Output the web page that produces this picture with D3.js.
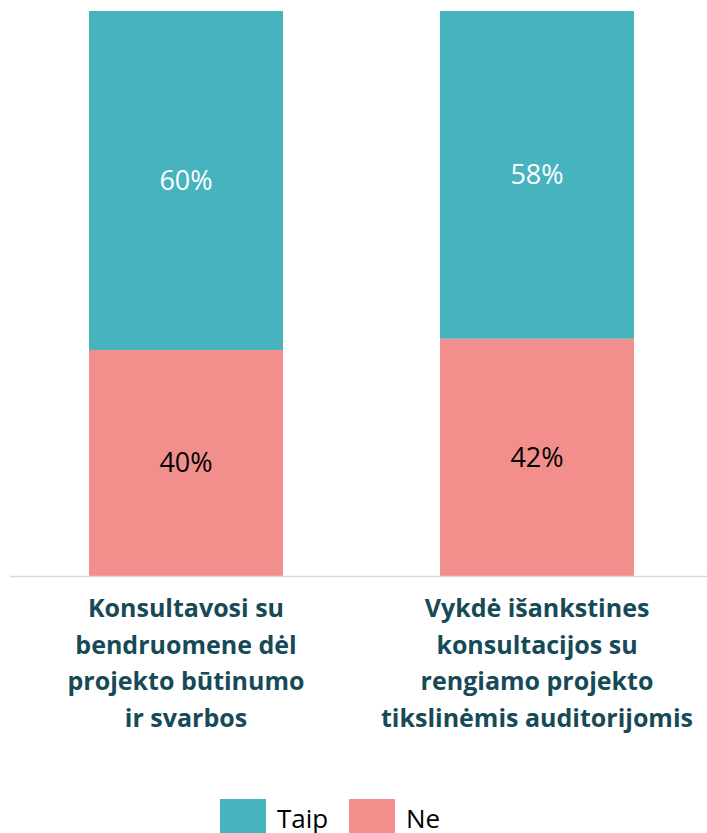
<!DOCTYPE html>
<html>
<head>
<meta charset="utf-8">
<script src="https://cdn.jsdelivr.net/npm/d3@7"></script>
<style>
  body { margin: 0; background: #fff; }
  svg { display: block; }
</style>
</head>
<body>
<svg id="chart" width="707" height="833"></svg>
<script>
// chart data
var categories = [
  ["Konsultavosi su", "bendruomene dėl", "projekto būtinumo", "ir svarbos"],
  ["Vykdė išankstines", "konsultacijos su", "rengiamo projekto", "tikslinėmis auditorijomis"]
];
var seriesNames = ["Ne", "Taip"];
var neValues = [40, 42];
var taipValues = [60, 58];
var colours = { Taip: "#46B3BF", Ne: "#F28F8D" };
var labelColours = { Taip: "#ffffff", Ne: "#000000" };
var legendOrder = ["Taip", "Ne"];

var svg = d3.select("#chart");
var font = "'Open Sans', sans-serif";

var plot = { left: 10, right: 707, top: 11, bottom: 576 };
var bw = 194;

// bar centres
var x = d3.scalePoint()
  .domain(d3.range(categories.length))
  .range([186, 537]);

var y = d3.scaleLinear().domain([0, 100]).range([plot.bottom, plot.top]);

// build stacked rows
var rows = categories.map(function(c, i) {
  return { idx: i, Ne: neValues[i], Taip: taipValues[i] };
});
var stack = d3.stack().keys(seriesNames)(rows);

function barX(i) { return x(i) - bw / 2; }

stack.forEach(function(layer) {
  var key = layer.key;
  var g = svg.append("g");
  g.selectAll("rect").data(layer).enter().append("rect")
    .attr("x", function(d, i) { return barX(i); })
    .attr("y", function(d) { return y(d[1]); })
    .attr("width", bw)
    .attr("height", function(d) { return y(d[0]) - y(d[1]); })
    .attr("fill", colours[key]);

  g.selectAll("text").data(layer).enter().append("text")
    .attr("x", function(d, i) { return x(i); })
    .attr("y", function(d) { return (y(d[0]) + y(d[1])) / 2; })
    .attr("dy", "0.35em")
    .attr("text-anchor", "middle")
    .attr("font-family", font)
    .attr("font-size", "27px")
    .attr("fill", labelColours[key])
    .text(function(d) { return (d[1] - d[0]) + "%"; });
});

// baseline
svg.append("line")
  .attr("x1", plot.left).attr("x2", plot.right)
  .attr("y1", plot.bottom + 0.5).attr("y2", plot.bottom + 0.5)
  .attr("stroke", "#d9d9d9")
  .attr("stroke-width", 1.5);

// category labels
categories.forEach(function(lines, i) {
  var t = svg.append("text")
    .attr("text-anchor", "middle")
    .attr("font-family", font)
    .attr("font-weight", "bold")
    .attr("font-size", "25px")
    .attr("fill", "#174A57");
  lines.forEach(function(l, j) {
    t.append("tspan")
      .attr("x", x(i))
      .attr("y", 617 + j * 36.5)
      .text(l);
  });
});

// legend
var legendX = [220, 349];
legendOrder.forEach(function(k, i) {
  svg.append("rect")
    .attr("x", legendX[i]).attr("y", 799)
    .attr("width", 46).attr("height", 34)
    .attr("fill", colours[k]);
  svg.append("text")
    .attr("x", legendX[i] + 57).attr("y", 828)
    .attr("font-family", font)
    .attr("font-size", "26px")
    .attr("fill", "#000")
    .text(k);
});
</script>
</body>
</html>
